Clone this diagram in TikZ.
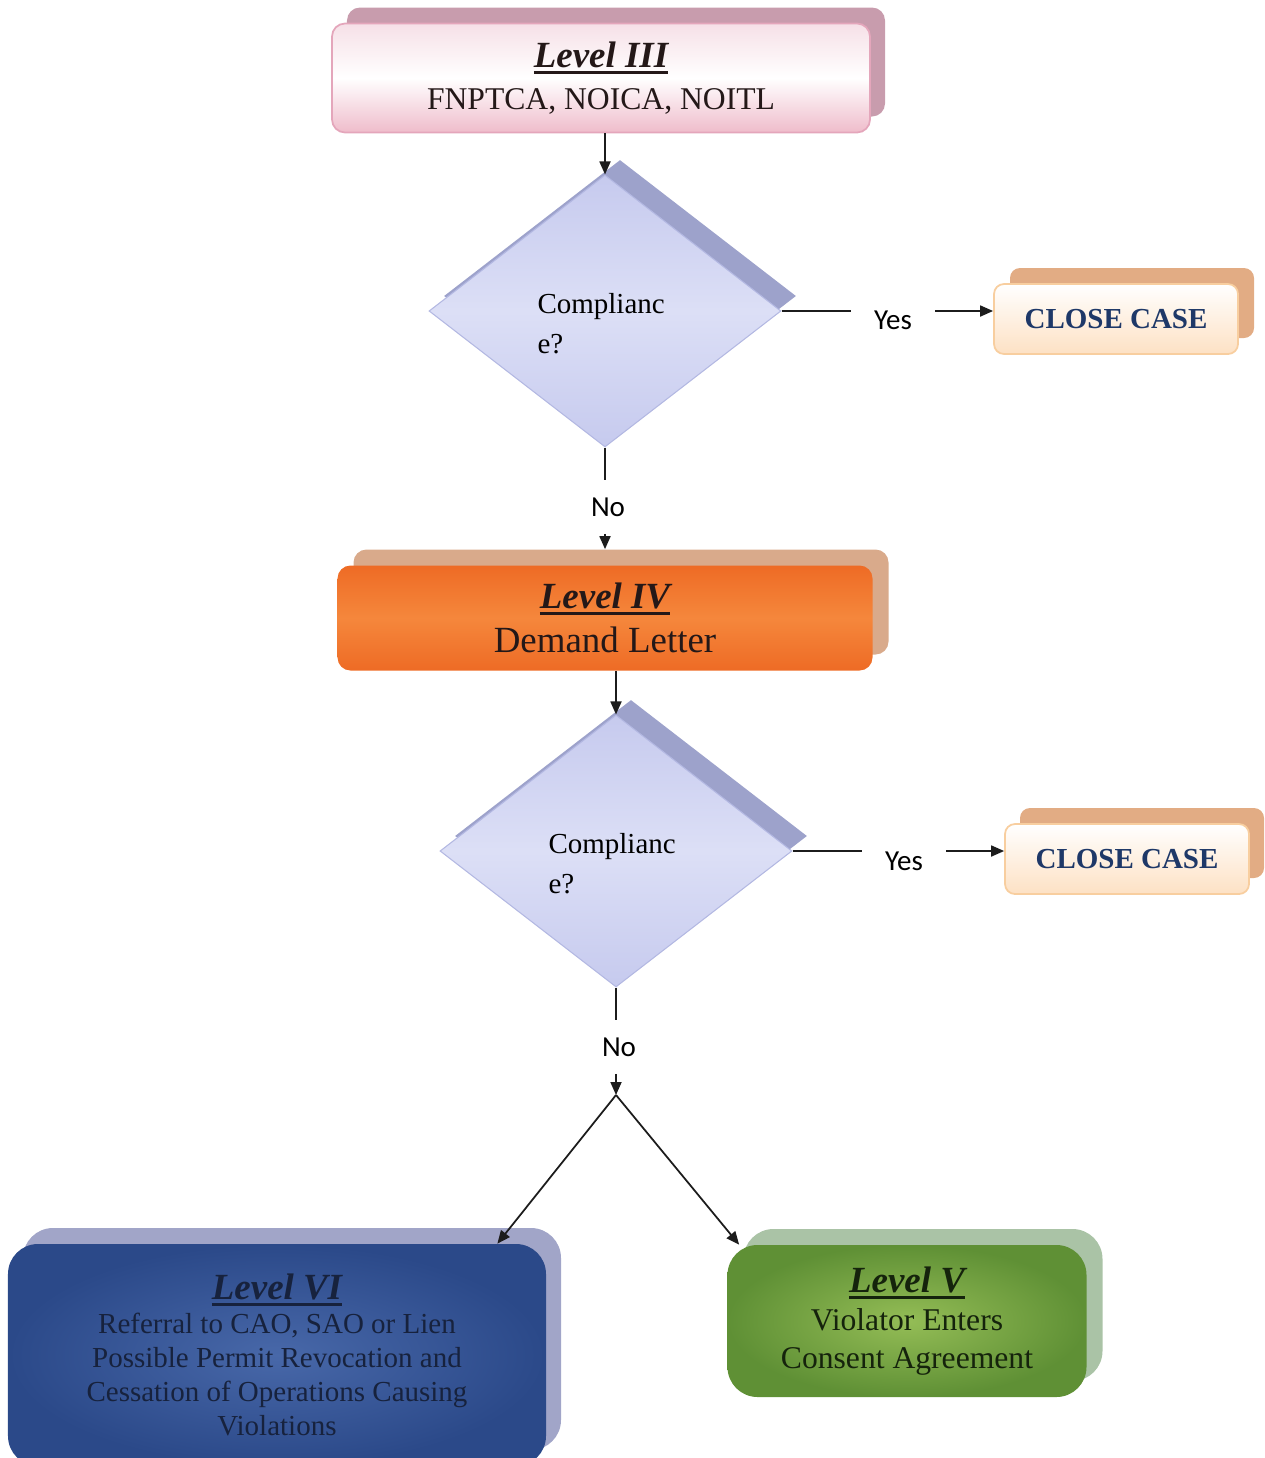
\documentclass[tikz,border=0pt]{standalone}
\usepackage{fontspec}
\setmainfont{Liberation Serif}
\newfontfamily\answerfont{Carlito}
\usepackage{xcolor}
\definecolor{Wire}{HTML}{1C1C1C}
\definecolor{Ink}{HTML}{241818}
\definecolor{PinkRim}{HTML}{E4A6BB}
\definecolor{PinkLow}{HTML}{EFBCCB}
\definecolor{PinkTop}{HTML}{F6E0E7}
\definecolor{PinkBack}{HTML}{C89CAD}
\definecolor{Lilac}{HTML}{C6CAEE}
\definecolor{LilacMid}{HTML}{DCDFF6}
\definecolor{LilacRim}{HTML}{B3B8E2}
\definecolor{LilacBack}{HTML}{9DA2CB}
\definecolor{Peach}{HTML}{FDE1C4}
\definecolor{PeachRim}{HTML}{F8CE9F}
\definecolor{PeachBack}{HTML}{E2AC84}
\definecolor{CaseInk}{HTML}{1E3868}
\definecolor{Orange}{HTML}{EE6B25}
\definecolor{OrangeMid}{HTML}{F5873C}
\definecolor{OrangeBack}{HTML}{D9AA8B}
\definecolor{Navy}{HTML}{2B4989}
\definecolor{NavyMid}{HTML}{4868A9}
\definecolor{NavyBack}{HTML}{A1A5C8}
\definecolor{NavyInk}{HTML}{17223D}
\definecolor{Leaf}{HTML}{5F9035}
\definecolor{LeafMid}{HTML}{94BD56}
\definecolor{LeafBack}{HTML}{AAC3A6}
\definecolor{LeafInk}{HTML}{15230C}
\usepackage{tikz}
\usetikzlibrary{arrows.meta,positioning,shapes.geometric,calc}
\newsavebox\lvlbox
\newcommand{\lvl}[1]{{\fontsize{21}{23}\selectfont\bfseries\itshape
  \sbox\lvlbox{#1}\rlap{\rule[-3.5pt]{\wd\lvlbox}{1.5pt}}\usebox\lvlbox}}
% extra room above the first line of a decision text
\newcommand{\qtop}{\rule{0pt}{26pt}}
\tikzset{
  levelbox/.style={rounded corners=2.6mm,align=center,inner sep=0pt,text=Ink},
  backbox/.style={rounded corners=2.6mm,inner sep=0pt},
  decision/.style={diamond,draw=LilacRim,line width=0.6pt,top color=Lilac,bottom color=Lilac,
    middle color=LilacMid,minimum width=70.4mm,minimum height=54.4mm,inner sep=0pt,
    text width=27mm,align=left,font=\fontsize{16.5}{22.5}\selectfont,text=black},
  decisionback/.style={diamond,fill=LilacBack,minimum width=70.4mm,minimum height=54.4mm,inner sep=0pt},
  closebox/.style={rounded corners=2mm,draw=PeachRim,line width=1pt,top color=white,bottom color=Peach,
    minimum width=48.8mm,minimum height=14mm,font=\fontsize{16.5}{19}\selectfont\bfseries,text=CaseInk},
  closeback/.style={rounded corners=2mm,fill=PeachBack,minimum width=48.8mm,minimum height=14mm},
  answer/.style={font=\answerfont\fontsize{16.5}{19}\selectfont,inner xsep=4.6mm,inner ysep=3.4mm},
  flow/.style={-{Triangle[length=2.6mm,width=2.2mm]},line width=1pt,draw=Wire},
  wire/.style={line width=1pt,draw=Wire}
}
\begin{document}
\begin{tikzpicture}[x=0.2mm,y=-0.2mm]
  \useasboundingbox (0,0) rectangle (1265,1458);
  % level III
  \node[backbox,fill=PinkBack,minimum width=107.6mm,minimum height=21.8mm] (l3b) at (616,62) {};
  \node[levelbox,draw=PinkRim,line width=1pt,top color=PinkTop,bottom color=PinkLow,middle color=white,
    minimum width=107.6mm,minimum height=21.8mm,font=\fontsize{18}{20.5}\selectfont]
    (l3) at (601,78) {\lvl{Level III}\\[3pt]FNPTCA, NOICA, NOITL};
  % first check
  \node[decisionback] (q1b) at (620,296) {};
  \node[decision] (q1) at (605,311) {\qtop Complianc\\e?};
  \node[answer] (y1) at (893,320) {Yes};
  \node[closeback] (c1b) at (1132,303) {};
  \node[closebox] (c1) at (1116,319) {CLOSE CASE};
  \node[answer] (n1) at (608,507) {No};
  % level IV
  \node[backbox,fill=OrangeBack,minimum width=107mm,minimum height=21mm] (l4b) at (621,602) {};
  \node[levelbox,top color=Orange,bottom color=Orange,middle color=OrangeMid,
    minimum width=107mm,minimum height=21mm,font=\fontsize{21}{23}\selectfont]
    (l4) at (605,618) {\lvl{Level IV}\\[2pt]Demand Letter};
  % second check
  \node[decisionback] (q2b) at (631,836) {};
  \node[decision] (q2) at (616,851) {\qtop Complianc\\e?};
  \node[answer] (y2) at (904,861) {Yes};
  \node[closeback] (c2b) at (1142,843) {};
  \node[closebox] (c2) at (1127,859) {CLOSE CASE};
  \node[answer] (n2) at (619,1047) {No};
  \coordinate (fork) at (616,1095);
  % level VI and level V
  \node[backbox,rounded corners=6mm,fill=NavyBack,minimum width=107.6mm,minimum height=44.4mm] (l6b) at (292,1339) {};
  \node[levelbox,rounded corners=6mm,inner color=NavyMid,outer color=Navy,text=NavyInk,
    minimum width=107.6mm,minimum height=44.4mm,font=\fontsize{16.5}{19.3}\selectfont]
    (l6) at (277,1355) {\lvl{Level VI}\\Referral to CAO, SAO or Lien\\Possible Permit Revocation and\\
      Cessation of Operations Causing\\Violations};
  \node[backbox,rounded corners=6mm,fill=LeafBack,minimum width=71.8mm,minimum height=30.4mm] (l5b) at (923,1305) {};
  \node[levelbox,rounded corners=6mm,inner color=LeafMid,outer color=Leaf,text=LeafInk,
    minimum width=71.8mm,minimum height=30.4mm,font=\fontsize{18}{21.5}\selectfont]
    (l5) at (907,1321) {\lvl{Level V}\\Violator Enters\\Consent Agreement};
  % connectors
  \draw[flow] (q1.north |- l3.south) -- (q1.north);
  \draw[wire] (q1.east) -- (q1.east -| y1.west);
  \draw[flow] (y1.east |- q1.east) -- (c1.west |- q1.east);
  \draw[wire] (q1.south) -- (q1.south |- n1.north);
  \draw[flow] (q1.south |- n1.south) -- (q1.south |- l4b.north);
  \draw[flow] (q2.north |- l4.south) -- (q2.north);
  \draw[wire] (q2.east) -- (q2.east -| y2.west);
  \draw[flow] (y2.east |- q2.east) -- (c2.west |- q2.east);
  \draw[wire] (q2.south) -- (q2.south |- n2.north);
  \draw[flow] (q2.south |- n2.south) -- (fork);
  \draw[flow] (fork) -- ($(l6.north east)+(-49,0)$);
  \draw[flow] (fork) -- ($(l5.north west)+(12,0)$);
\end{tikzpicture}
\end{document}
